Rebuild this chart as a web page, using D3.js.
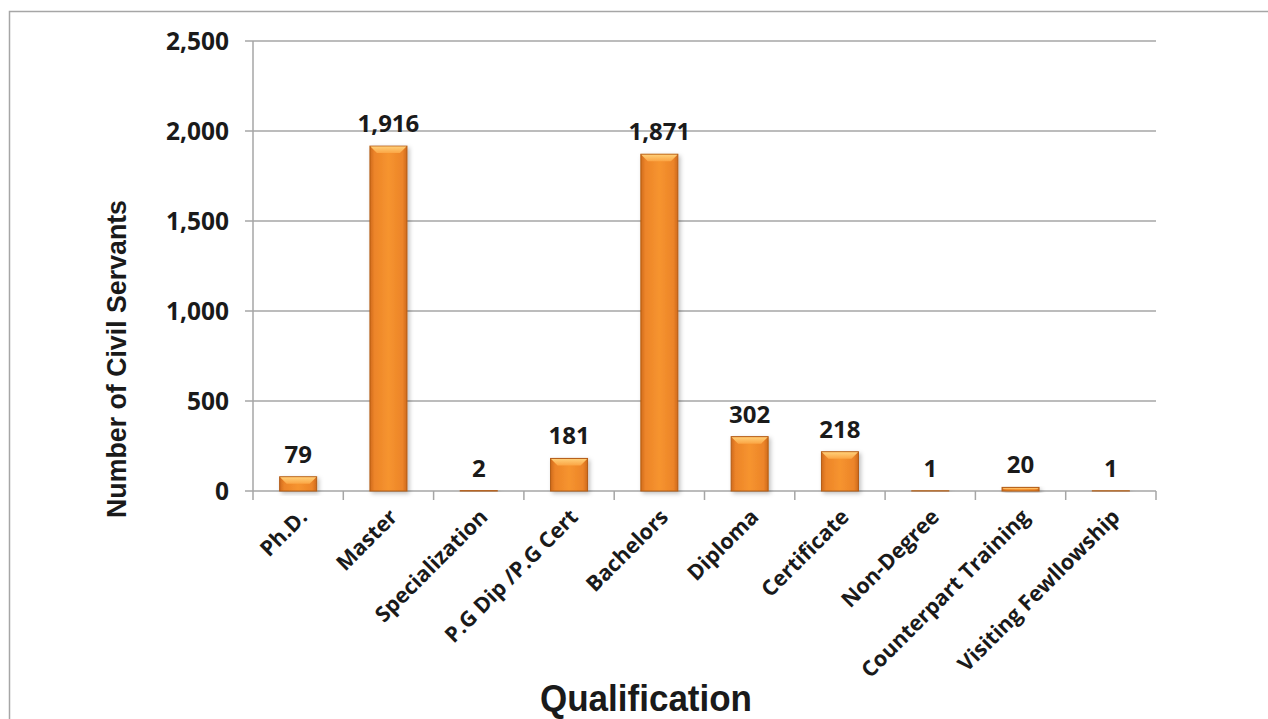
<!DOCTYPE html>
<html><head><meta charset="utf-8">
<script src="https://cdn.jsdelivr.net/npm/d3@7"></script>
<style>
html,body{margin:0;padding:0;background:#fff;overflow:hidden}
svg{display:block}
</style></head>
<body>
<svg id="chart" width="1268" height="719"></svg>
<script>
const categories = ["Ph.D.","Master","Specialization","P.G Dip /P.G Cert","Bachelors","Diploma","Certificate","Non-Degree","Counterpart Training","Visiting Fewllowship"];
const values = [79,1916,2,181,1871,302,218,1,20,1];
const yTicks = [0,500,1000,1500,2000,2500];
const yTitle = "Number of Civil Servants";
const xTitle = "Qualification";

const svg = d3.select("#chart");
const W = 1268, H = 719;
const m = {left:253, right:1156, top:41, bottom:491};
const FONT = "'Open Sans', Lato, sans-serif";

const defs = svg.append("defs");
const g1 = defs.append("linearGradient").attr("id","barGrad").attr("x1","0").attr("x2","1").attr("y1","0").attr("y2","0");
[["0%","#cf6a1c"],["12%","#ec8429"],["50%","#f6942f"],["88%","#ec8429"],["100%","#cf6a1c"]].forEach(s=>g1.append("stop").attr("offset",s[0]).attr("stop-color",s[1]));
const g2 = defs.append("linearGradient").attr("id","topGrad").attr("x1","0").attr("x2","0").attr("y1","0").attr("y2","1");
[["0%","#ffcf78"],["100%","#fba544"]].forEach(s=>g2.append("stop").attr("offset",s[0]).attr("stop-color",s[1]));
const f = defs.append("filter").attr("id","shadow").attr("x","-20%").attr("y","-20%").attr("width","150%").attr("height","150%");
f.append("feDropShadow").attr("dx",2).attr("dy",2).attr("stdDeviation",2).attr("flood-color","#000").attr("flood-opacity",0.25);

// outer border
svg.append("path").attr("d",`M9.5,${H} V11.5 H${W}`).attr("fill","none").attr("stroke","#a6a6a6").attr("stroke-width",1.5);

const x = d3.scaleBand().domain(categories).range([m.left,m.right]).paddingInner(0.59).paddingOuter(0.295);
const y = d3.scaleLinear().domain([0,2500]).range([m.bottom,m.top]);

// gridlines
svg.append("g").selectAll("line").data(yTicks).join("line")
  .attr("x1",m.left-8).attr("x2",m.right).attr("y1",d=>y(d)).attr("y2",d=>y(d))
  .attr("stroke","#a6a6a6").attr("stroke-width",1.5);

// y axis line
svg.append("line").attr("x1",m.left).attr("x2",m.left).attr("y1",m.top).attr("y2",m.bottom).attr("stroke","#a6a6a6").attr("stroke-width",1.5);

// y tick labels
const fmt = d3.format(",");
svg.append("g").selectAll("text").data(yTicks).join("text")
  .attr("x",229).attr("y",d=>y(d)).attr("dy","0.36em").attr("text-anchor","end")
  .attr("font-family",FONT).attr("font-weight","bold").attr("font-size",24.5).attr("fill","#1a1a1a")
  .text(d=>fmt(d));

// x tick marks at category boundaries
const step = x.step();
const bounds = d3.range(categories.length+1).map(i=>m.left + i*step);
svg.append("g").selectAll("line").data(bounds).join("line")
  .attr("x1",d=>d).attr("x2",d=>d).attr("y1",m.bottom).attr("y2",m.bottom+9)
  .attr("stroke","#a6a6a6").attr("stroke-width",1.5);

// bars
const data = categories.map((c,i)=>({c,v:values[i]}));
const bars = svg.append("g").selectAll("g").data(data).join("g");
bars.append("rect")
  .attr("x",d=>x(d.c)).attr("y",d=>y(d.v)).attr("width",x.bandwidth()).attr("height",d=>y(0)-y(d.v))
  .attr("fill","url(#barGrad)").attr("stroke","#b35c14").attr("stroke-width",1).attr("filter","url(#shadow)");
bars.append("path")
  .attr("d",d=>{
    const x0=x(d.c), x1=x0+x.bandwidth(), t=y(d.v), h=y(0)-y(d.v);
    const b=Math.min(7,h/2);
    if(h<1) return "";
    return `M${x0+0.5},${t+0.5} H${x1-0.5} L${x1-b},${t+b} H${x0+b} Z`;
  })
  .attr("fill","url(#topGrad)");

// value labels
svg.append("g").selectAll("text").data(data).join("text")
  .attr("x",d=>x(d.c)+x.bandwidth()/2).attr("y",d=>y(d.v)-14).attr("text-anchor","middle")
  .attr("font-family",FONT).attr("font-weight","bold").attr("font-size",24).attr("fill","#1a1a1a")
  .text(d=>fmt(d.v));

// x category labels
svg.append("g").selectAll("text").data(categories).join("text")
  .attr("transform",d=>`translate(${x(d)+x.bandwidth()/2+5},${m.bottom+22}) rotate(-45)`)
  .attr("text-anchor","end").attr("dy","0.35em")
  .attr("font-family",FONT).attr("font-weight","bold").attr("font-size",21.5).attr("fill","#1a1a1a")
  .text(d=>d);

// axis titles
svg.append("text").attr("transform",`translate(126,359) rotate(-90)`).attr("text-anchor","middle")
  .attr("font-family","'Liberation Sans', Arial, sans-serif").attr("font-weight","bold").attr("font-size",28)
  .attr("textLength",318).attr("lengthAdjust","spacingAndGlyphs").attr("fill","#1a1a1a")
  .text(yTitle);
svg.append("text").attr("x",646).attr("y",711).attr("text-anchor","middle")
  .attr("font-family","'Liberation Sans', Arial, sans-serif").attr("font-weight","bold").attr("font-size",37)
  .attr("textLength",212).attr("lengthAdjust","spacingAndGlyphs").attr("fill","#1a1a1a")
  .text(xTitle);
</script>
</body></html>
